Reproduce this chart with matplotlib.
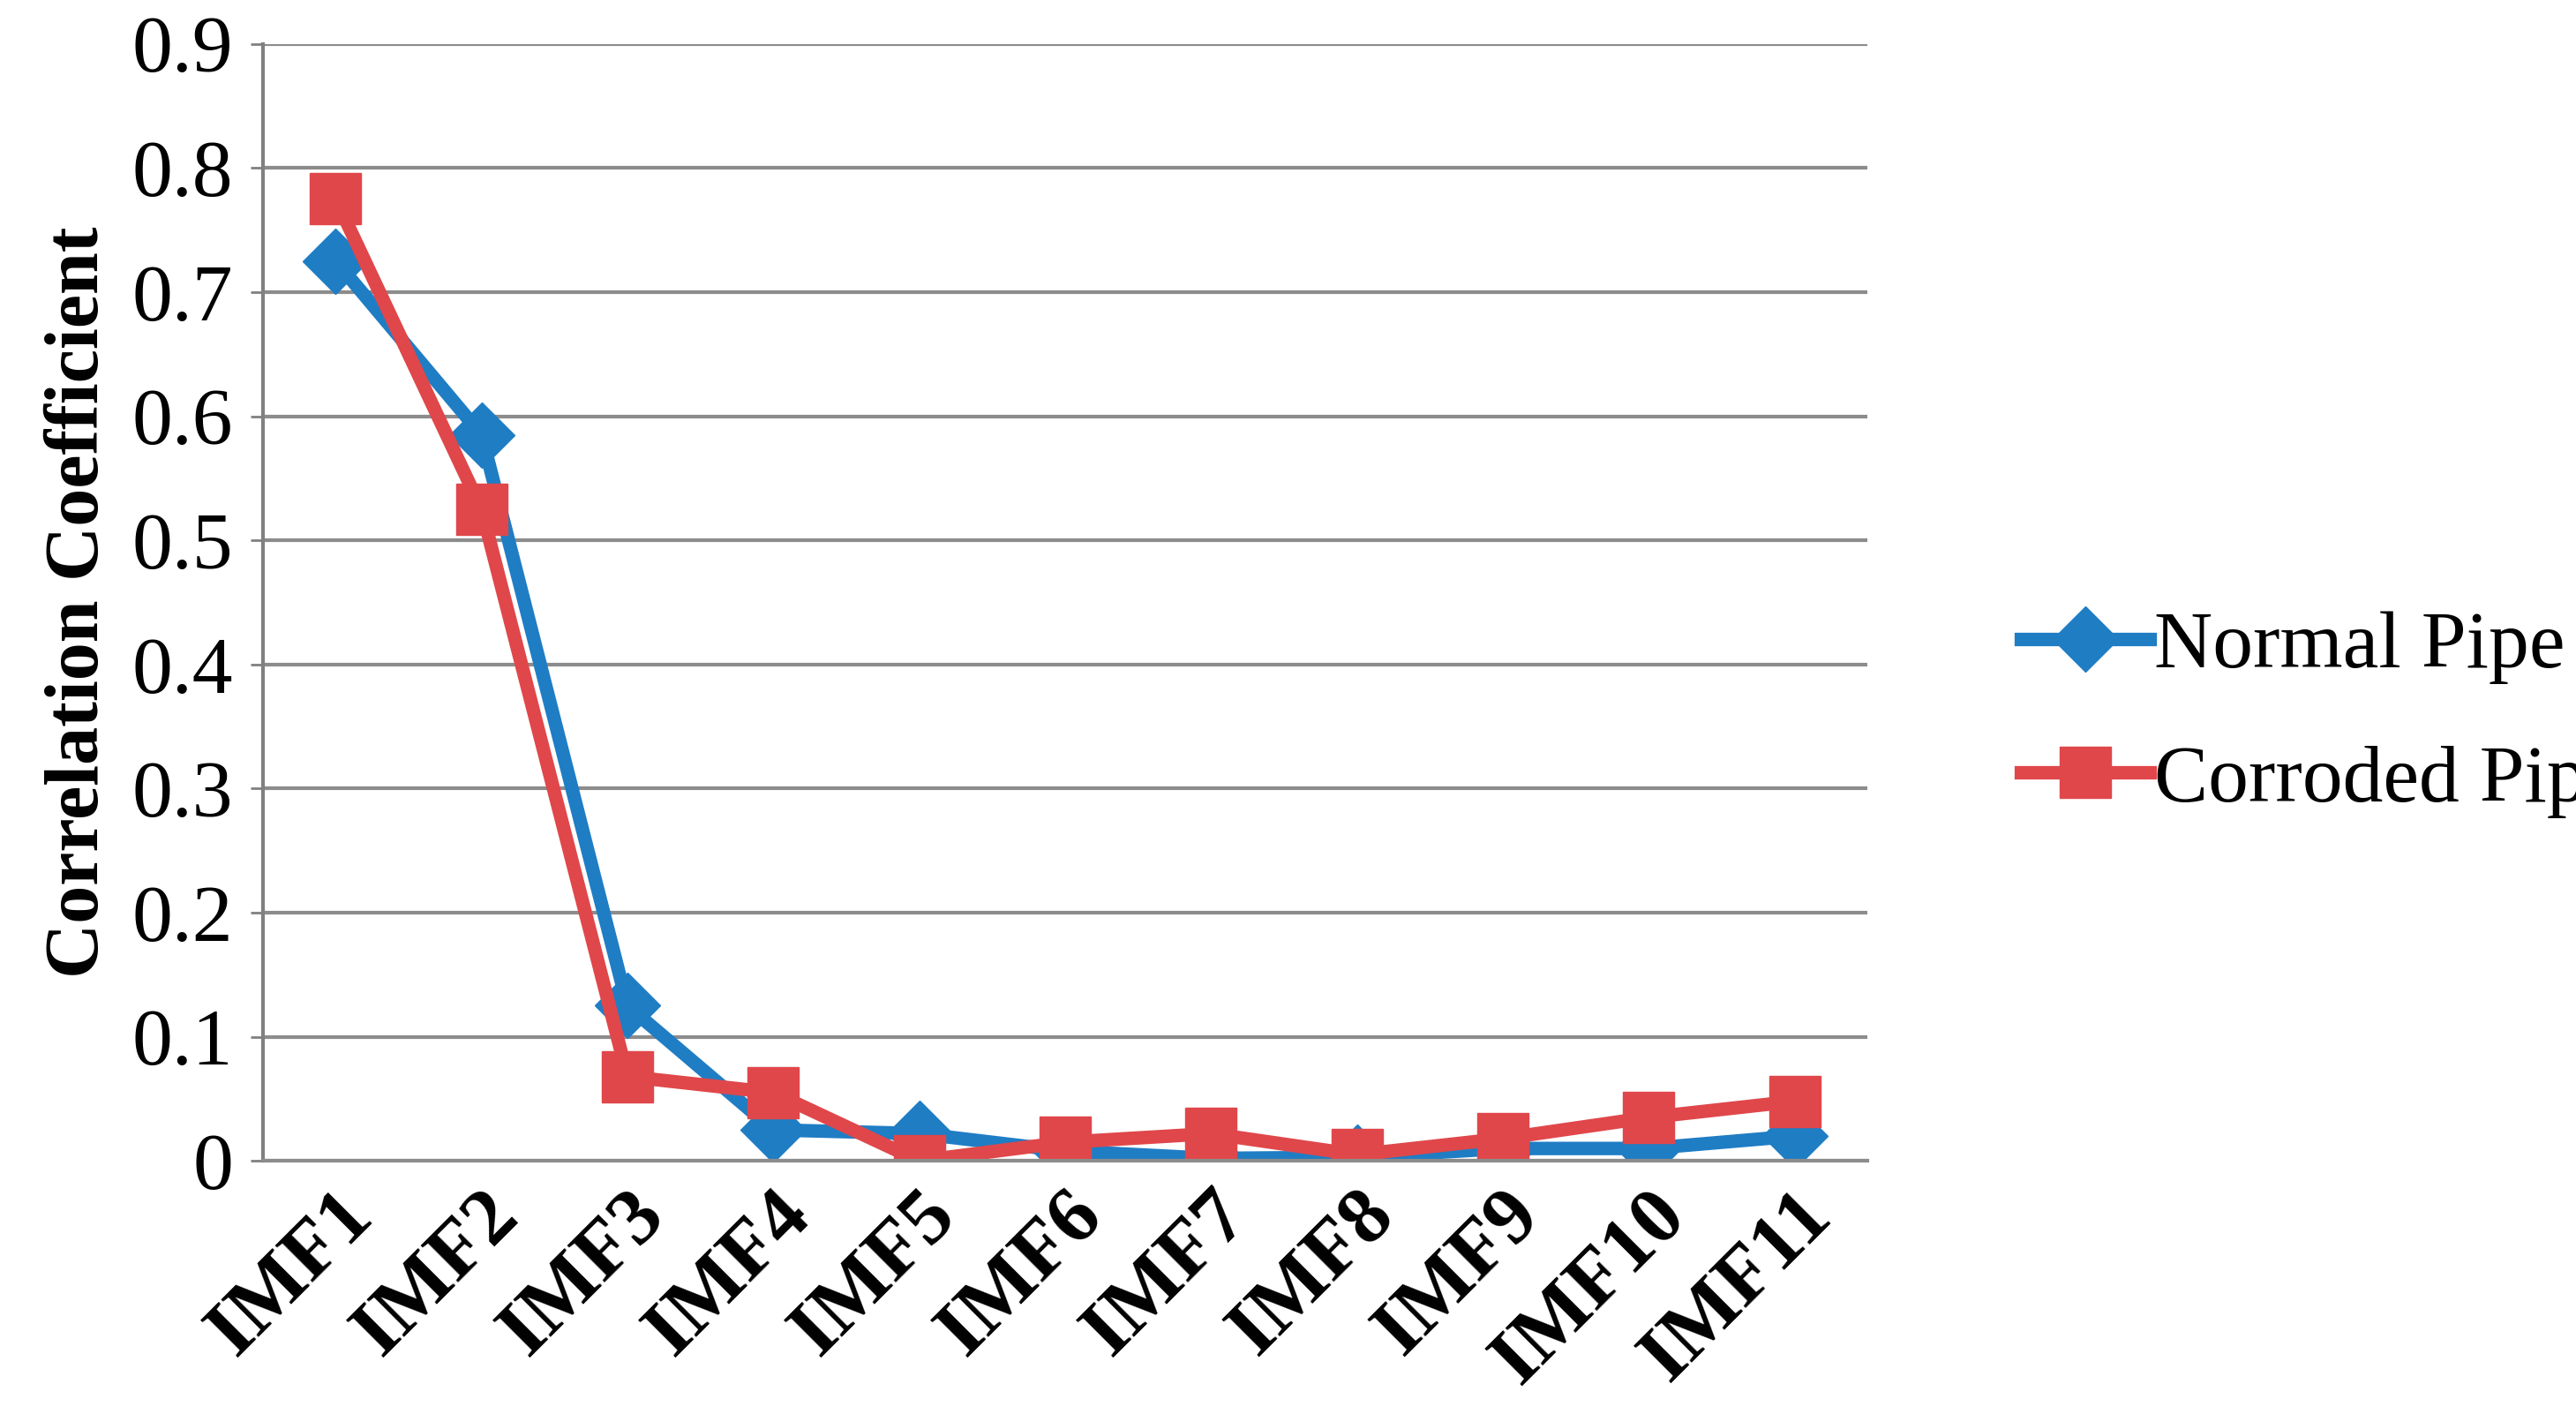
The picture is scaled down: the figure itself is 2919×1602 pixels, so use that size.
import matplotlib.pyplot as plt

labels = ["IMF1", "IMF2", "IMF3", "IMF4", "IMF5", "IMF6", "IMF7", "IMF8", "IMF9", "IMF10", "IMF11"]
normal = [0.725, 0.585, 0.125, 0.025, 0.022, 0.008, 0.002, 0.003, 0.010, 0.010, 0.020]
corroded = [0.775, 0.525, 0.068, 0.055, 0.0, 0.015, 0.022, 0.005, 0.018, 0.035, 0.048]

plt.rcParams["font.family"] = ["Liberation Serif", "DejaVu Serif"]

fig = plt.figure(figsize=(29.19, 16.02), dpi=100)
ax = fig.add_axes([0.102, 0.179, 0.623, 0.79])
x = list(range(len(labels)))
ax.plot(x, normal, color="#1F7DC4", lw=11, marker="D", ms=38, label="Normal Pipe")
ax.plot(x, corroded, color="#E0474A", lw=11, marker="s", ms=42, label="Corroded Pipe")

ax.set_xlim(-0.5, len(labels) - 0.5)
ax.set_ylim(0, 0.9)
ax.set_yticks([i / 10 for i in range(10)])
ax.set_yticklabels(["0"] + [f"{i / 10:.1f}" for i in range(1, 10)])
ax.set_xticks(x)
ax.set_xticklabels(labels, rotation=45, ha="right", rotation_mode="anchor", fontweight="bold")
ax.tick_params(axis="both", labelsize=66, length=0, pad=14)
ax.tick_params(axis="y", length=10, width=2, color="#808080")
ax.yaxis.grid(True, color="#8c8c8c", lw=3)
ax.set_axisbelow(True)
for s in ["top", "right"]:
    ax.spines[s].set_visible(False)
ax.spines["left"].set_color("#808080")
ax.spines["left"].set_linewidth(3)
ax.spines["bottom"].set_color("#8c8c8c")
ax.spines["bottom"].set_linewidth(3)
ax.set_ylabel("Correlation Coefficient", fontsize=62, fontweight="bold", labelpad=14)

ax.legend(loc="center left", bbox_to_anchor=(1.05, 0.40), frameon=False, fontsize=66,
          handlelength=1.6, labelspacing=0.75, handletextpad=0.05)

fig.savefig("out.png", dpi=100)
